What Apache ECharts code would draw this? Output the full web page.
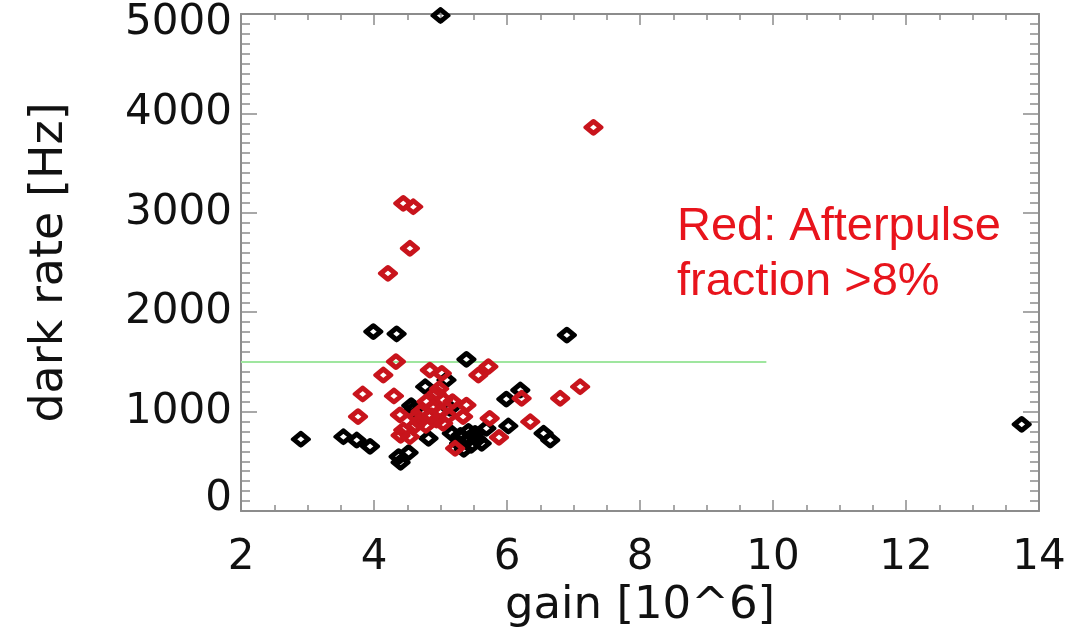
<!DOCTYPE html>
<html>
<head>
<meta charset="utf-8">
<script src="https://cdn.jsdelivr.net/npm/echarts@6/dist/echarts.min.js"></script>
<style>
html,body{margin:0;padding:0;background:#fff;}
#chart{width:1071px;height:642px;}
</style>
</head>
<body>
<div id="chart"></div>
<script>
// gain [10^6], dark rate [Hz]
const blackPoints = [
  [5.00, 4985], [2.90, 722], [3.54, 747], [3.74, 714], [3.94, 650],
  [3.99, 1804], [4.34, 1781], [4.37, 546], [4.52, 587], [4.40, 490],
  [5.39, 1526], [5.09, 1318], [4.77, 1250], [5.14, 1033], [4.59, 1016],
  [5.99, 1125], [6.02, 855], [5.69, 832], [4.82, 731], [5.17, 782],
  [5.30, 760], [5.38, 700], [5.46, 660], [5.55, 720], [5.62, 680],
  [5.42, 800], [5.28, 680], [5.52, 780], [6.90, 1770], [6.20, 1217],
  [6.55, 782], [6.65, 714], [13.74, 872], [4.56, 1060], [5.35, 620]
];
const redPoints = [
  [7.30, 3860], [4.44, 3095], [4.59, 3061], [4.54, 2643], [4.21, 2391],
  [4.33, 1502], [4.14, 1368], [3.83, 1177], [4.30, 1157], [3.76, 949],
  [4.39, 966], [4.44, 815], [4.40, 760], [4.54, 747], [4.62, 860],
  [4.84, 1418], [5.02, 1385], [5.57, 1368], [5.72, 1452], [4.94, 1184],
  [5.04, 1117], [4.79, 1100], [4.70, 1000], [4.88, 1040], [5.00, 1000],
  [5.12, 960], [5.39, 1066], [5.34, 949], [4.64, 949], [4.94, 915],
  [5.04, 882], [4.78, 860], [5.22, 631], [5.74, 932], [5.88, 740],
  [6.22, 1134], [6.35, 898], [6.80, 1134], [7.10, 1250],
  [4.98, 1230], [4.68, 900], [5.18, 1100], [4.86, 960]
];
const thresholdLine = [[2, 1500], [9.9, 1500]];
const xTicks = { min: 2, max: 14, interval: 2 };
const yTicks = { min: 0, max: 5000, interval: 1000 };
const xTitle = 'gain [10^6]';
const yTitle = 'dark rate [Hz]';
const noteLines = ['Red: Afterpulse', 'fraction >8%'];

const axisGray = '#8c8c8c';
const labelFont = 'DejaVu Sans';

function xAx(pos, show) {
  return {
    type: 'value', position: pos, min: xTicks.min, max: xTicks.max, interval: xTicks.interval,
    name: show ? xTitle : '', nameLocation: 'middle', nameGap: 70,
    nameTextStyle: { fontFamily: labelFont, fontSize: 45, color: '#111' },
    axisLine: { show: true, onZero: false, lineStyle: { color: axisGray, width: 2 } },
    axisTick: { show: true, inside: true, length: 11, lineStyle: { color: axisGray, width: 1.5 } },
    minorTick: { show: true, splitNumber: 4, length: 6, lineStyle: { color: axisGray, width: 1.5 } },
    splitLine: { show: false }, minorSplitLine: { show: false },
    axisLabel: { show: show, fontFamily: labelFont, fontSize: 42, color: '#111', margin: 26 }
  };
}
const yRich = {
  lo: { fontFamily: labelFont, fontSize: 42, color: '#111', padding: [0, 0, 24, 0] },
  hi: { fontFamily: labelFont, fontSize: 42, color: '#111', padding: [18, 0, 0, 0] }
};
function yAx(pos, show) {
  return {
    type: 'value', position: pos, min: yTicks.min, max: yTicks.max, interval: yTicks.interval,
    name: show ? yTitle : '', nameLocation: 'middle', nameGap: 168, nameRotate: 90,
    nameTextStyle: { fontFamily: labelFont, fontSize: 46, color: '#111' },
    axisLine: { show: true, onZero: false, lineStyle: { color: axisGray, width: 2 } },
    axisTick: { show: true, inside: true, length: 16, lineStyle: { color: axisGray, width: 1.5 } },
    minorTick: { show: true, splitNumber: 10, length: 9, lineStyle: { color: axisGray, width: 1.5 } },
    splitLine: { show: false }, minorSplitLine: { show: false },
    axisLabel: {
      show: show, fontFamily: labelFont, fontSize: 42, color: '#111', margin: 9,
      formatter: function (v) {
        if (v === yTicks.min) return '{lo|' + v + '}';
        if (v === yTicks.max) return '{hi|' + v + '}';
        return String(v);
      },
      rich: yRich
    }
  };
}
function markerSeries(data, color) {
  return {
    type: 'scatter', data: data, xAxisIndex: 0, yAxisIndex: 0,
    symbol: 'diamond', symbolSize: [14.5, 12],
    itemStyle: { color: 'rgba(255,255,255,0)', borderColor: color, borderWidth: 5, borderJoin: 'round', opacity: 1 },
    emphasis: { disabled: true }, silent: true, clip: false, z: 3
  };
}

const chart = echarts.init(document.getElementById('chart'), null, { renderer: 'canvas' });
chart.setOption({
  animation: false,
  backgroundColor: '#ffffff',
  grid: { left: 241, right: 32, top: 14, bottom: 131, containLabel: false },
  xAxis: [xAx('bottom', true), xAx('top', false)],
  yAxis: [yAx('left', true), yAx('right', false)],
  series: [
    {
      type: 'line', data: thresholdLine, xAxisIndex: 0, yAxisIndex: 0,
      symbol: 'none', lineStyle: { color: '#9fe69f', width: 2 }, silent: true, z: 2
    },
    markerSeries(blackPoints, '#000000'),
    markerSeries(redPoints, '#c8141c')
  ],
  graphic: [{
    type: 'text', left: 677, top: 200,
    style: {
      text: noteLines.join('\n'), fill: '#e8141c',
      font: '47px "Liberation Sans", Arial, sans-serif', lineHeight: 55
    }
  }]
});
</script>
</body>
</html>
